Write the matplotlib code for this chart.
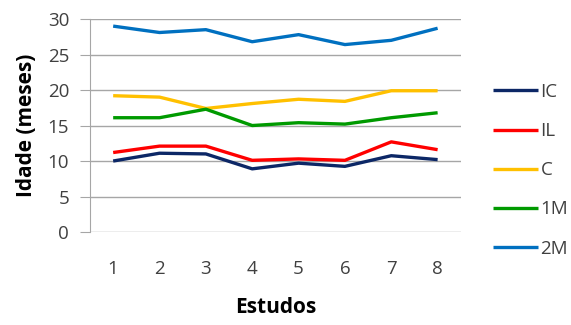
import numpy as np
import matplotlib
matplotlib.use("Agg")
import matplotlib.pyplot as plt

plt.rcParams['font.family'] = ['Open Sans', 'DejaVu Sans']

estudos = [1, 2, 3, 4, 5, 6, 7, 8]
ic = [10.0, 11.1, 11.0, 8.9, 9.7, 9.25, 10.75, 10.2]
il = [11.2, 12.1, 12.1, 10.1, 10.3, 10.1, 12.7, 11.6]
c = [19.2, 19.0, 17.4, 18.1, 18.7, 18.4, 19.9, 19.9]
m1 = [16.1, 16.1, 17.3, 15.0, 15.4, 15.2, 16.1, 16.8]
m2 = [29.0, 28.1, 28.5, 26.8, 27.8, 26.4, 27.0, 28.7]

series = [("IC", ic, "#0c2766"), ("IL", il, "#ff0000"), ("C", c, "#ffc000"),
          ("1M", m1, "#009a00"), ("2M", m2, "#0070c0")]

fig = plt.figure(figsize=(5.71, 3.25), dpi=100)
ax = fig.add_axes([0.1576, 0.286, 0.6494, 0.6555])

x = np.arange(len(estudos))
for name, vals, col in series:
    ax.plot(x, vals, color=col, lw=2.4, label=name, solid_capstyle='butt')

ax.set_xlim(-0.5, len(estudos) - 0.5)
ax.set_ylim(0, 30)
ax.set_yticks(range(0, 31, 5))
ax.set_xticks(x)
ax.set_xticklabels(estudos)
ax.yaxis.grid(True, color="#a6a6a6", lw=1)
ax.set_axisbelow(True)
for s in ["top", "right", "bottom"]:
    ax.spines[s].set_visible(False)
ax.spines["left"].set_color("#a6a6a6")
ax.tick_params(axis="y", length=7, color="#a6a6a6", labelsize=13.5, labelcolor="#404040", pad=8)
ax.tick_params(axis="x", length=0, labelsize=13.5, labelcolor="#404040", pad=20)

ax.set_ylabel("Idade (meses)", fontsize=15, fontweight="bold", labelpad=8)
ax.set_xlabel("Estudos", fontsize=15, fontweight="bold", labelpad=14)

ax.legend(loc="upper left", bbox_to_anchor=(1.086, 0.70), frameon=False, fontsize=13.5,
          labelcolor="#404040", handlelength=2.4, handletextpad=0.15, labelspacing=1.13,
          borderaxespad=0, borderpad=0)

fig.savefig("out.png", dpi=100)
